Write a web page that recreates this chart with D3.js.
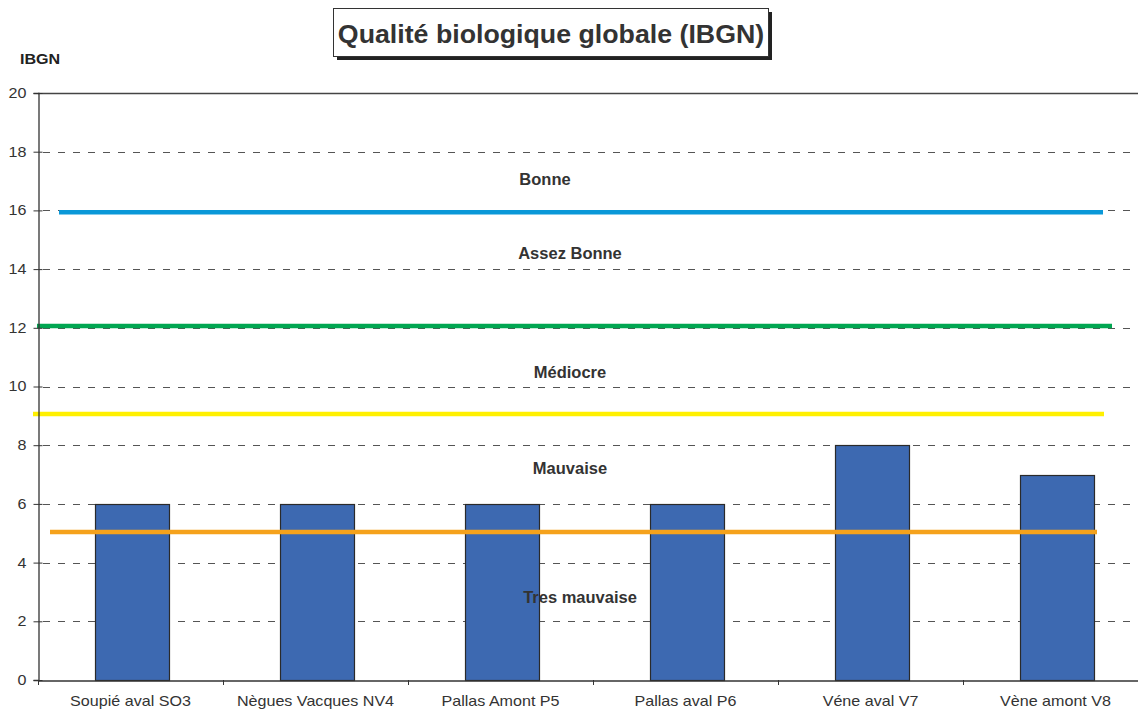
<!DOCTYPE html>
<html>
<head>
<meta charset="utf-8">
<script src="https://cdn.jsdelivr.net/npm/d3@7"></script>
<style>
  html, body { margin: 0; padding: 0; background: #fff; }
  svg { display: block; overflow: hidden; }
  text { font-family: "Liberation Sans", Arial, sans-serif; }
</style>
</head>
<body>
<div id="chart"></div>
<script>
// Stations sampled and their IBGN score
const stations = ["Soupié aval SO3", "Nègues Vacques NV4", "Pallas Amont P5", "Pallas aval P6", "Véne aval V7", "Vène amont V8"];
const ibgn = [6, 6, 6, 6, 8, 7];

// Quality class thresholds (horizontal reference lines)
const thresholdValues = [15.94, 12.06, 9.06, 5.04];
const thresholdColors = ["#0a98d8", "#00a651", "#fff000", "#f5a21c"];

// Quality class names and the IBGN level where each is written
const classNames = ["Bonne", "Assez Bonne", "Médiocre", "Mauvaise", "Tres mauvaise"];
const classLevels = [17.0, 14.5, 10.45, 7.17, 2.77];

const yTicks = [0, 2, 4, 6, 8, 10, 12, 14, 16, 18, 20];

const W = 1138, H = 710;
const plotLeft = 38, plotRight = 1148, plotTop = 93, plotBottom = 680;
const stretch = 1.15; // horizontal stretch of the axis lettering

const svg = d3.select("#chart").append("svg")
  .attr("width", W).attr("height", H);

const x = d3.scaleBand().domain(stations).range([plotLeft, plotRight]).paddingInner(0.6).paddingOuter(0.3);
const xBand = d3.scaleBand().domain(stations).range([plotLeft, plotRight]);
const y = d3.scaleLinear().domain([0, 20]).range([plotBottom, plotTop]);

// Dashed horizontal gridlines
svg.append("g").selectAll("line")
  .data(yTicks.filter(d => d > 0 && d < 20))
  .join("line")
  .attr("x1", plotLeft + 5).attr("x2", plotRight)
  .attr("y1", d => Math.round(y(d)) + 0.5).attr("y2", d => Math.round(y(d)) + 0.5)
  .attr("stroke", "#555").attr("stroke-width", 1)
  .attr("stroke-dasharray", "7,8");

// Top border of plot
svg.append("line")
  .attr("x1", plotLeft).attr("x2", plotRight)
  .attr("y1", Math.round(y(20)) + 0.5).attr("y2", Math.round(y(20)) + 0.5)
  .attr("stroke", "#444").attr("stroke-width", 1.3);

// Bars
svg.append("g").selectAll("rect")
  .data(stations)
  .join("rect")
  .attr("x", d => Math.round(x(d) + x.bandwidth() / 2 - 35.5) + 0.5)
  .attr("width", 74)
  .attr("y", (d, i) => Math.round(y(ibgn[i])) + 0.5)
  .attr("height", (d, i) => Math.round(y(0)) - Math.round(y(ibgn[i])))
  .attr("fill", "#3d69b1")
  .attr("stroke", "#2a2a2a").attr("stroke-width", 1.2);

// Threshold lines
const lineExtents = [[59, 1103], [37, 1112], [33, 1104], [50, 1097]];
svg.append("g").selectAll("line")
  .data(thresholdValues)
  .join("line")
  .attr("x1", (d, i) => lineExtents[i][0]).attr("x2", (d, i) => lineExtents[i][1])
  .attr("y1", d => y(d)).attr("y2", d => y(d))
  .attr("stroke", (d, i) => thresholdColors[i])
  .attr("stroke-width", 4.5);

// Class labels
const labelX = [545, 570, 570, 570, 580];
svg.append("g").selectAll("text")
  .data(classNames)
  .join("text")
  .attr("x", (d, i) => labelX[i])
  .attr("y", (d, i) => y(classLevels[i]))
  .attr("text-anchor", "middle")
  .attr("dominant-baseline", "middle")
  .attr("font-size", 16.5).attr("font-weight", "bold")
  .attr("fill", "#333")
  .text(d => d);

// Y axis
const yAxis = svg.append("g")
  .attr("transform", `translate(${plotLeft + 0.5},0)`)
  .call(d3.axisLeft(y).tickValues(yTicks).tickSize(5).tickPadding(5).tickFormat(d3.format("d")));
yAxis.select(".domain").attr("stroke", "#333").attr("stroke-width", 1.3);
yAxis.selectAll(".tick line").attr("stroke", "#333").attr("x2", 4).attr("x1", -5);
yAxis.selectAll(".tick text")
  .attr("x", 0)
  .attr("transform", `translate(-12,0) scale(${stretch},1)`)
  .attr("font-size", 14).attr("fill", "#333")
  .attr("font-family", "Liberation Sans, Arial, sans-serif");

// X axis
const xAxis = svg.append("g")
  .attr("transform", `translate(0,${Math.round(plotBottom) + 0.5})`)
  .call(d3.axisBottom(xBand).tickSize(0).tickPadding(16));
xAxis.select(".domain").attr("stroke", "#333").attr("stroke-width", 1.3);
xAxis.selectAll(".tick text")
  .attr("transform", `scale(${stretch},1)`)
  .attr("font-size", 14).attr("fill", "#333")
  .attr("font-family", "Liberation Sans, Arial, sans-serif");
// category separator ticks
svg.append("g").selectAll("line")
  .data(stations)
  .join("line")
  .attr("x1", d => Math.round(xBand(d)) + 0.5).attr("x2", d => Math.round(xBand(d)) + 0.5)
  .attr("y1", plotBottom).attr("y2", plotBottom + 5)
  .attr("stroke", "#333");

// Y axis title
svg.append("text")
  .attr("transform", `translate(20,64) scale(${stretch},1)`)
  .attr("font-size", 14).attr("font-weight", "bold").attr("fill", "#222")
  .text("IBGN");

// Title box with shadow
const tb = { x: 333, y: 8, w: 435, h: 48 };
svg.append("rect")
  .attr("x", tb.x + 4).attr("y", tb.y + 4).attr("width", tb.w).attr("height", tb.h)
  .attr("fill", "#222");
svg.append("rect")
  .attr("x", tb.x + 0.5).attr("y", tb.y + 0.5).attr("width", tb.w).attr("height", tb.h)
  .attr("fill", "#fff").attr("stroke", "#333").attr("stroke-width", 1);
svg.append("text")
  .attr("transform", `translate(${tb.x + tb.w / 2 + 0.5},43) scale(1.07,1)`)
  .attr("text-anchor", "middle")
  .attr("font-size", 25).attr("font-weight", "bold").attr("fill", "#333")
  .text("Qualité biologique globale (IBGN)");
</script>
</body>
</html>
